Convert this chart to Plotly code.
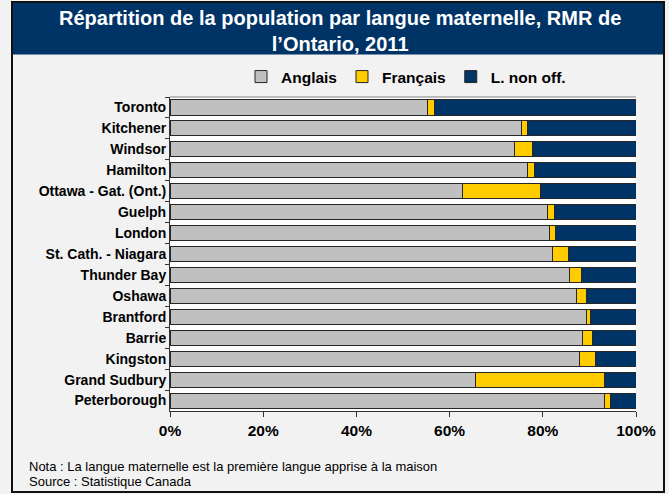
import plotly.graph_objects as go

regions = ["Toronto", "Kitchener", "Windsor", "Hamilton", "Ottawa - Gat. (Ont.)",
           "Guelph", "London", "St. Cath. - Niagara", "Thunder Bay", "Oshawa",
           "Brantford", "Barrie", "Kingston", "Grand Sudbury", "Peterborough"]
anglais = [55.3, 75.4, 73.9, 76.7, 62.7, 81.1, 81.4, 82.1, 85.8, 87.3, 89.3, 88.5, 87.8, 65.6, 93.3]
francais = [1.4, 1.3, 3.8, 1.6, 16.7, 1.4, 1.3, 3.5, 2.5, 2.1, 1.0, 2.2, 3.5, 27.7, 1.2]
non_off = [43.3, 23.3, 22.3, 21.7, 20.6, 17.5, 17.3, 14.4, 11.7, 10.6, 9.7, 9.3, 8.7, 6.7, 5.5]
x_ticks = [0, 20, 40, 60, 80, 100]
x_tick_labels = ["0%", "20%", "40%", "60%", "80%", "100%"]

series = [("Anglais", anglais, "#c0c0c0"),
          ("Français", francais, "#ffcc00"),
          ("L. non off.", non_off, "#003366")]

FONT = "Liberation Sans, Arial, sans-serif"

W, H = 669, 494
ML, MR, MT, MB = 170, 33, 97, 83
pw, ph = W - ML - MR, H - MT - MB


def px(x):
    return (x - ML) / pw


def py(y):
    return (H - MB - y) / ph


fig = go.Figure()
for name, vals, col in series:
    fig.add_trace(go.Bar(
        y=regions, x=vals, name=name, orientation="h",
        marker=dict(color=col, line=dict(color="#262626", width=1)),
        width=0.72, hoverinfo="x+y+name",
    ))

fig.update_layout(
    barmode="stack",
    width=W, height=H,
    margin=dict(l=ML, r=MR, t=MT, b=MB, autoexpand=False),
    paper_bgcolor="#f2f2f2",
    plot_bgcolor="#ffffff",
    font=dict(family=FONT, size=12, color="#000000"),
    showlegend=True,
    legend=dict(orientation="h", x=px(241), xanchor="left", y=py(77), yanchor="middle",
                font=dict(family=FONT, size=15.5, color="#000000", weight="bold"),
                bgcolor="rgba(0,0,0,0)", traceorder="normal", itemwidth=30,
                itemclick=False, itemdoubleclick=False),
    xaxis=dict(range=[0, 100], tickmode="array", tickvals=x_ticks, ticktext=x_tick_labels,
               showgrid=False, zeroline=False, showline=True, linecolor="#333333",
               linewidth=1, ticks="outside", ticklen=5, tickcolor="#333333",
               tickfont=dict(family=FONT, size=15.5, color="#000000", weight="bold"),
               fixedrange=True),
    yaxis=dict(autorange="reversed", showgrid=False, showline=True, linecolor="#333333",
               linewidth=1, ticks="outside", ticklen=4, tickcolor="#333333",
               tickson="boundaries",
               tickfont=dict(family=FONT, size=14, color="#000000", weight="bold"),
               fixedrange=True),
)

fig.layout.shapes = [
    dict(type="rect", xref="paper", yref="paper", x0=px(12), x1=px(664), y0=py(492), y1=py(2),
         line=dict(color="#111111", width=2), fillcolor="rgba(0,0,0,0)", layer="below"),
    dict(type="rect", xref="paper", yref="paper", x0=px(13), x1=px(663), y0=py(54.5), y1=py(3),
         line=dict(width=0), fillcolor="#003366", layer="below"),
    dict(type="line", xref="paper", yref="paper", x0=0, x1=1, y0=1, y1=1,
         line=dict(color="#808080", width=1), layer="above"),
]

fig.add_annotation(xref="paper", yref="paper", x=px(340), y=py(31), xanchor="center", yanchor="middle",
                   text="Répartition de la population par langue maternelle, RMR de<br>l’Ontario, 2011",
                   showarrow=False, align="center",
                   font=dict(family=FONT, size=20, color="#ffffff", weight="bold"))
fig.add_annotation(xref="paper", yref="paper", x=px(27), y=py(466), xanchor="left", yanchor="middle",
                   text="Nota : La langue maternelle est la première langue apprise à la maison",
                   showarrow=False, font=dict(family=FONT, size=13, color="#000000"))
fig.add_annotation(xref="paper", yref="paper", x=px(27), y=py(481), xanchor="left", yanchor="middle",
                   text="Source : Statistique Canada",
                   showarrow=False, font=dict(family=FONT, size=13, color="#000000"))

fig.write_html("out.html", config={"displayModeBar": False},
               post_script="document.body.style.margin='0';document.body.style.overflow='hidden';")
